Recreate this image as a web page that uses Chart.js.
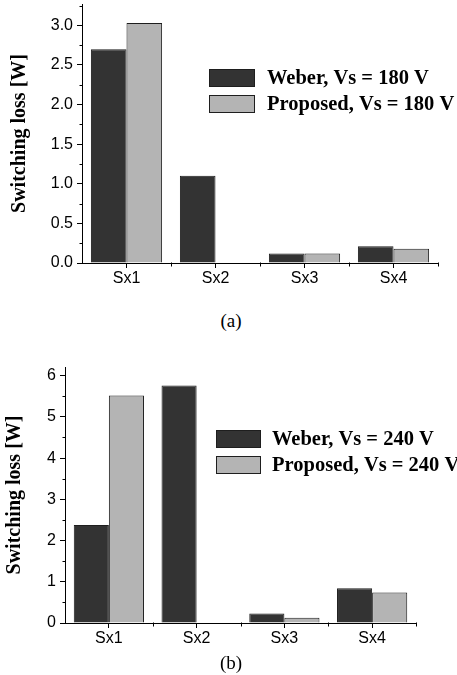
<!DOCTYPE html>
<html>
<head>
<meta charset="utf-8">
<title>Switching loss</title>
<script src="https://cdn.jsdelivr.net/npm/chart.js@4"></script>
<style>
  body { margin: 0; background: #fff; }
  .wrap { position: relative; width: 457px; height: 675px; overflow: hidden; }
  canvas { position: absolute; left: 0; }
  #chartA { top: 0; }
  #chartB { top: 335px; }
  .cap { position: absolute; width: 40px; margin-left: -20px; text-align: center;
         font: 19px "Liberation Serif", serif; color: #000; line-height: 22px; }
</style>
</head>
<body>
<div class="wrap">
  <canvas id="chartA" width="457" height="300"></canvas>
  <div class="cap" style="left:231px; top:310px">(a)</div>
  <canvas id="chartB" width="457" height="320"></canvas>
  <div class="cap" style="left:231px; top:652px">(b)</div>
</div>
<script>
// switches
const categories = ['Sx1', 'Sx2', 'Sx3', 'Sx4'];

// switching loss [W], Vs = 180 V
const weber180 = [2.70, 1.10, 0.12, 0.21];
const proposed180 = [3.03, 0, 0.12, 0.18];

// switching loss [W], Vs = 240 V
const weber240 = [2.38, 5.76, 0.23, 0.84];
const proposed240 = [5.52, 0, 0.13, 0.74];

// y axis labels
const yTicks180 = [0, 0.5, 1.0, 1.5, 2.0, 2.5, 3.0];
const yTicks240 = [0, 1, 2, 3, 4, 5, 6];

const DARK = '#333333';
const LIGHT = '#b4b4b4';
const EDGE = '#1e1e1e';
const tickFont = { family: '"Liberation Sans", Arial, sans-serif', size: 16 };
const serifBold = { family: '"Liberation Serif", "Times New Roman", serif', size: 20, weight: 'bold' };

// legend with square swatches, placed inside the plot
const boxLegend = {
  id: 'boxLegend',
  afterDraw(chart, args, opts) {
    const ctx = chart.ctx;
    ctx.save();
    ctx.font = 'bold 20.5px "Liberation Serif", serif';
    ctx.textBaseline = 'middle';
    chart.data.datasets.forEach((ds, i) => {
      const y = opts.top + i * opts.rowGap;
      ctx.fillStyle = ds.backgroundColor;
      ctx.fillRect(opts.left, y, opts.boxW, opts.boxH);
      ctx.strokeStyle = ds.borderColor;
      ctx.lineWidth = 1;
      ctx.strokeRect(opts.left + 0.5, y + 0.5, opts.boxW - 1, opts.boxH - 1);
      ctx.fillStyle = '#000';
      ctx.fillText(ds.label, opts.left + opts.boxW + opts.gap, y + opts.boxH / 2 + 1);
    });
    ctx.restore();
  }
};

// short ticks: between labelled values on y, at category edges on x
const minorTicks = {
  id: 'minorTicks',
  afterDraw(chart, args, opts) {
    const ys = chart.scales.y;
    const area = chart.chartArea;
    const ctx = chart.ctx;
    const x0 = Math.round(area.left) + 0.5;
    const y0 = Math.round(area.bottom) + 0.5;
    ctx.save();
    ctx.strokeStyle = '#000';
    ctx.lineWidth = 1;
    ctx.beginPath();
    for (let k = 1; k * opts.step <= ys.max + 1e-9; k += 2) {
      const py = Math.round(ys.getPixelForValue(k * opts.step)) + 0.5;
      ctx.moveTo(x0 - 3, py);
      ctx.lineTo(x0, py);
    }
    const n = chart.data.labels.length;
    for (let i = 1; i <= n; i++) {
      const px = Math.round(area.left + (area.right - area.left) * i / n) + 0.5;
      ctx.moveTo(px, y0 - 1);
      ctx.lineTo(px, y0 + 3);
    }
    ctx.stroke();
    ctx.restore();
  }
};

function makeChart(id, cfg) {
  return new Chart(document.getElementById(id), {
    type: 'bar',
    data: {
      labels: categories,
      datasets: [
        { label: 'Weber, Vs = ' + cfg.volts + ' V', data: cfg.weber,
          backgroundColor: DARK, borderColor: EDGE, borderWidth: 1 },
        { label: 'Proposed, Vs = ' + cfg.volts + ' V', data: cfg.proposed,
          backgroundColor: LIGHT, borderColor: EDGE, borderWidth: 1 }
      ]
    },
    options: {
      responsive: false,
      devicePixelRatio: 1,
      animation: false,
      datasets: { bar: { categoryPercentage: 0.8, barPercentage: 1.0 } },
      layout: { padding: cfg.padding },
      plugins: {
        legend: { display: false },
        tooltip: { enabled: false },
        boxLegend: cfg.legend,
        minorTicks: { step: cfg.minorStep }
      },
      scales: {
        x: {
          offset: true,
          grid: { offset: false, drawOnChartArea: false, drawTicks: true, tickLength: 5, color: '#000' },
          border: { color: '#000', width: 1 },
          ticks: { font: tickFont, color: '#000', padding: 1, maxRotation: 0 },
          afterFit: s => { s.height = cfg.xHeight; s.paddingLeft = 0; s.paddingRight = 0; }
        },
        y: {
          min: 0,
          max: cfg.yMax,
          grid: { drawOnChartArea: false, drawTicks: true, tickLength: 5, color: '#000' },
          border: { color: '#000', width: 1 },
          ticks: { font: tickFont, color: '#000', padding: 4, callback: cfg.fmt },
          afterBuildTicks: s => { s.ticks = cfg.yTicks.map(v => ({ value: v })); },
          title: { display: true, text: 'Switching loss [W]', font: serifBold, color: '#000',
                   padding: { top: cfg.titlePad, bottom: 0 } },
          afterFit: s => { s.width = cfg.yWidth; s.paddingTop = 0; s.paddingBottom = 0; }
        }
      }
    },
    plugins: [boxLegend, minorTicks]
  });
}

makeChart('chartA', {
  volts: 180, weber: weber180, proposed: proposed180,
  yMax: 3.27, yTicks: yTicks180, minorStep: 0.25, fmt: v => v.toFixed(1),
  yWidth: 82, xHeight: 30, titlePad: 8,
  padding: { top: 4, right: 19, bottom: 7, left: 0 },
  legend: { left: 209, top: 69, boxW: 46, boxH: 18, rowGap: 26, gap: 12 }
});

makeChart('chartB', {
  volts: 240, weber: weber240, proposed: proposed240,
  yMax: 6.21, yTicks: yTicks240, minorStep: 0.5, fmt: v => String(v),
  yWidth: 65, xHeight: 30, titlePad: 3,
  padding: { top: 32, right: 41, bottom: 2, left: 0 },
  legend: { left: 216, top: 95, boxW: 45, boxH: 18, rowGap: 26, gap: 11 }
});
</script>
</body>
</html>
